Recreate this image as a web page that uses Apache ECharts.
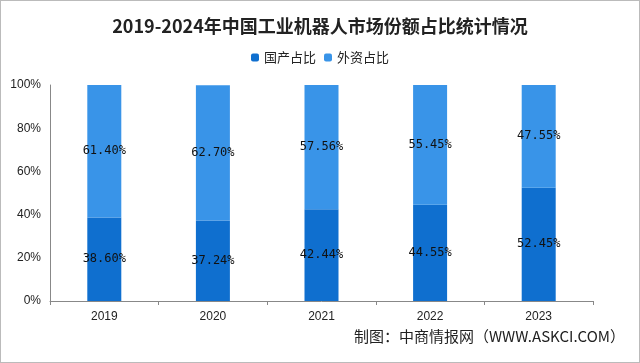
<!DOCTYPE html>
<html><head><meta charset="utf-8">
<script src="https://cdn.jsdelivr.net/npm/echarts@6/dist/echarts.min.js"></script>
<style>html,body{margin:0;padding:0;background:#fff}#c{width:640px;height:363px;box-sizing:border-box;border:1px solid #bbb}</style>
</head><body><div id="c"></div>
<script>
const categories = ['2019','2020','2021','2022','2023'];
const domestic = [38.60, 37.24, 42.44, 44.55, 52.45];
const foreign = [61.40, 62.70, 57.56, 55.45, 47.55];
const yTicks = [0, 20, 40, 60, 80, 100];
const lblFont = '"DejaVu Sans Mono", monospace';
const chart = echarts.init(document.getElementById('c'));
chart.setOption({
  animation: false,
  title: {
    text: '2019-2024年中国工业机器人市场份额占比统计情况',
    left: 'center', top: 11,
    textStyle: { fontFamily: '"Noto Sans CJK SC"', fontSize: 18, fontWeight: 'bold', color: '#222' }
  },
  legend: {
    top: 45, left: 'center', itemWidth: 8, itemHeight: 8, itemGap: 8,
    textStyle: { fontFamily: '"Noto Sans CJK SC"', fontSize: 13, color: '#222' },
    data: ['国产占比', '外资占比']
  },
  grid: { left: 49, right: 46, top: 84, bottom: 61 },
  xAxis: {
    type: 'category', data: categories,
    axisLine: { lineStyle: { color: '#888' } },
    axisTick: { show: true, alignWithLabel: false, length: 4, lineStyle: { color: '#888' } },
    axisLabel: { fontFamily: '"Liberation Sans Narrow", "Liberation Sans"', fontSize: 12, color: '#222', margin: 10 }
  },
  yAxis: {
    type: 'value', min: 0, max: 100, interval: 20,
    axisLine: { show: true, lineStyle: { color: '#888' } },
    axisTick: { show: false },
    splitLine: { show: false },
    axisLabel: { formatter: v => yTicks.includes(v) ? v + '%' : '', fontFamily: '"Liberation Sans Narrow", "Liberation Sans"', fontSize: 12, color: '#222', margin: 9 }
  },
  series: [
    { name: '国产占比', type: 'bar', stack: 's', barWidth: 34, data: domestic,
      itemStyle: { color: '#0f6fcf' },
      label: { show: true, position: 'inside', formatter: p => p.value.toFixed(2) + '%', fontFamily: lblFont, fontSize: 12, color: '#111' } },
    { name: '外资占比', type: 'bar', stack: 's', barWidth: 34, data: foreign,
      itemStyle: { color: '#3994e8' },
      label: { show: true, position: 'inside', formatter: p => p.value.toFixed(2) + '%', fontFamily: lblFont, fontSize: 12, color: '#111' } }
  ],
  graphic: [{
    type: 'text', right: 14, top: 328,
    style: { text: '制图：中商情报网（WWW.ASKCI.COM）', font: '15px "Noto Sans CJK SC"', fill: '#222' }
  }]
});
</script></body></html>
